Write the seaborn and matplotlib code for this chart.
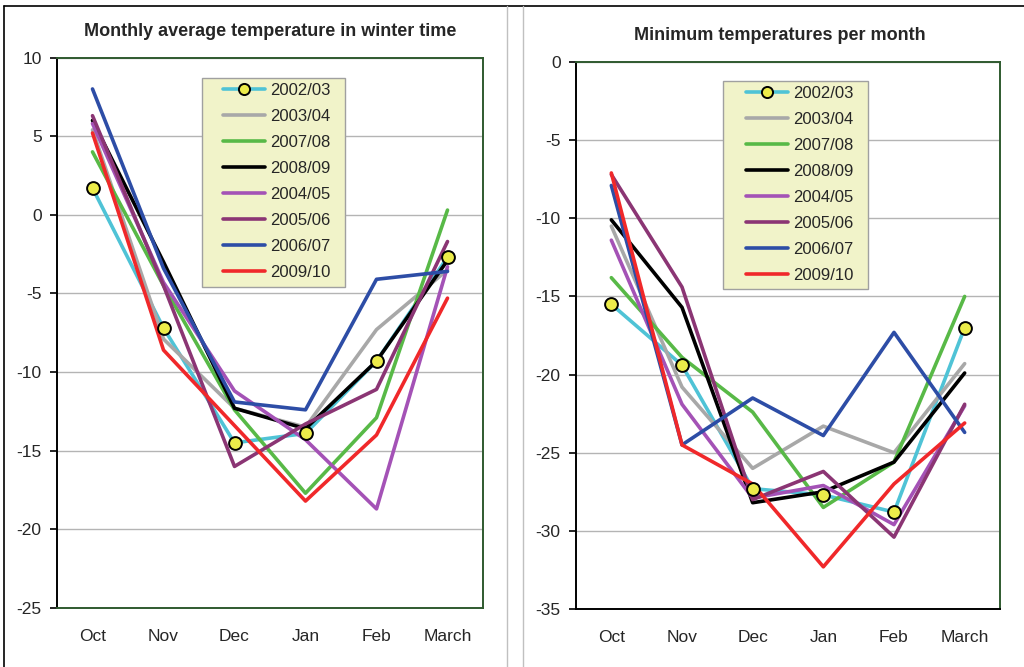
import numpy as np
import pandas as pd
import matplotlib
matplotlib.use('Agg')
import matplotlib.pyplot as plt
from matplotlib.lines import Line2D
from matplotlib.patches import Rectangle
import seaborn as sns

months = ['Oct', 'Nov', 'Dec', 'Jan', 'Feb', 'March']
seasons = ['2002/03', '2003/04', '2007/08', '2008/09', '2004/05', '2005/06', '2006/07', '2009/10']
colors = ['#4fc3d6', '#a8a8a8', '#58b947', '#000000', '#a452b6', '#8b3574', '#2d4da6', '#f0282a']

# monthly average temperature
avg_0203 = [1.7, -7.2, -14.5, -13.9, -9.3, -2.7]
avg_0304 = [5.4, -7.9, -12.3, -13.5, -7.3, -3.5]
avg_0708 = [4.0, -4.5, -12.4, -17.7, -12.9, 0.3]
avg_0809 = [6.0, -3.0, -12.3, -13.6, -9.3, -2.9]
avg_0405 = [5.8, -4.3, -11.2, -14.3, -18.7, -3.3]
avg_0506 = [6.3, -4.5, -16.0, -13.3, -11.1, -1.7]
avg_0607 = [8.0, -3.4, -11.9, -12.4, -4.1, -3.6]
avg_0910 = [5.2, -8.6, -13.4, -18.2, -14.0, -5.3]

# minimum temperatures
min_0203 = [-15.5, -19.4, -27.3, -27.7, -28.8, -17.0]
min_0304 = [-10.5, -20.8, -26.0, -23.3, -25.0, -19.3]
min_0708 = [-13.8, -18.9, -22.4, -28.5, -25.6, -15.0]
min_0809 = [-10.1, -15.7, -28.2, -27.5, -25.6, -19.9]
min_0405 = [-11.4, -21.9, -27.9, -27.1, -29.6, -22.0]
min_0506 = [-7.2, -14.4, -28.0, -26.2, -30.4, -21.9]
min_0607 = [-7.9, -24.5, -21.5, -23.9, -17.3, -23.7]
min_0910 = [-7.1, -24.5, -27.0, -32.3, -27.0, -23.1]

avg_vals = [avg_0203, avg_0304, avg_0708, avg_0809, avg_0405, avg_0506, avg_0607, avg_0910]
min_vals = [min_0203, min_0304, min_0708, min_0809, min_0405, min_0506, min_0607, min_0910]


def long_df(vals):
    rows = []
    for s, v in zip(seasons, vals):
        for m, t in zip(months, v):
            rows.append({'month': m, 'season': s, 'temp': t})
    return pd.DataFrame(rows)


sns.set_style('white')
plt.rcParams['font.family'] = ['Liberation Sans', 'DejaVu Sans']
plt.rcParams['axes.unicode_minus'] = False

fig = plt.figure(figsize=(10.24, 6.67), dpi=100)
ax1 = fig.add_axes([57/1024, 1-608/667, 426/1024, 550.5/667])
ax2 = fig.add_axes([576/1024, 1-609/667, 424/1024, 547/667])

dkgreen = '#2f5a2f'
pal = dict(zip(seasons, colors))


def draw(ax, vals, ylim, bottom_color, xtick_color):
    df = long_df(vals)
    df['x'] = df['month'].map({m: i for i, m in enumerate(months)})
    sns.lineplot(data=df, x='x', y='temp', hue='season', palette=pal,
                 hue_order=seasons, sort=False, lw=2.6, ax=ax, legend=False)
    first = df[df['season'] == seasons[0]]
    sns.scatterplot(data=first, x='x', y='temp', color='#ecec4a', edgecolor='black',
                    linewidth=1.4, s=85, zorder=5, ax=ax, legend=False)
    ax.set_xlim(-0.5, 5.5)
    ax.set_ylim(*ylim)
    ax.set_yticks(np.arange(ylim[0], ylim[1] + 1, 5))
    ax.set_xticks(range(len(months)))
    ax.set_xticklabels(months)
    ax.set_xticks(np.arange(-0.5, 6, 1), minor=True)
    ax.tick_params(axis='x', which='major', length=0, pad=15, labelsize=12.5)
    ax.tick_params(axis='x', which='minor', length=5, color=xtick_color, width=1)
    ax.tick_params(axis='y', length=5, width=1.2, color='black', pad=6, labelsize=12.5, left=True)
    ax.grid(axis='y', color='#b4b4b4', lw=1)
    ax.set_axisbelow(True)
    ax.set_xlabel('')
    ax.set_ylabel('')
    ax.spines['left'].set_color('black')
    ax.spines['left'].set_linewidth(1.4)
    for sp in ['top', 'right']:
        ax.spines[sp].set_color(dkgreen)
        ax.spines[sp].set_linewidth(1.4)
    ax.spines['bottom'].set_color(bottom_color)
    ax.spines['bottom'].set_linewidth(1.4)

    handles = []
    for i, (s, c) in enumerate(zip(seasons, colors)):
        if i == 0:
            handles.append(Line2D([], [], color=c, lw=2.6, marker='o', markersize=8,
                                  markerfacecolor='#ecec4a', markeredgecolor='black',
                                  markeredgewidth=1.4, label=s))
        else:
            handles.append(Line2D([], [], color=c, lw=2.6, label=s))
    return handles


def legend_box(ax, handles, box, anchor):
    ax.add_patch(Rectangle(box[:2], box[2], box[3], transform=ax.transAxes,
                           facecolor='#f1f3c9', edgecolor='#a0a0a0', lw=1, zorder=8))
    leg = ax.legend(handles=handles, loc='upper left', bbox_to_anchor=anchor, fontsize=12,
                    handlelength=2.5, handletextpad=0.3, labelspacing=0.66, borderpad=0,
                    borderaxespad=0, frameon=False, numpoints=1)
    leg.set_zorder(9)


h = draw(ax1, avg_vals, (-25, 10), dkgreen, '#b4b4b4')
legend_box(ax1, h, (0.34, 0.583, 0.336, 0.38), ((223-57)/426, (608-83)/550.5))

h = draw(ax2, min_vals, (-35, 0), 'black', 'black')
legend_box(ax2, h, (0.347, 0.585, 0.342, 0.380), ((746-576)/424, (609-86)/547))

fig.text(270/1024, 1-31/667, 'Monthly average temperature in winter time', ha='center', va='center',
         fontsize=13, fontweight='bold')
fig.text(780/1024, 1-36/667, 'Minimum temperatures per month', ha='center', va='center',
         fontsize=13, fontweight='bold')

# panel frames
fig.add_artist(Line2D([4/1024, 1], [1-6/667, 1-6/667], color='black', lw=1.2))
fig.add_artist(Line2D([4/1024, 4/1024], [0, 1-6/667], color='black', lw=1.2))
fig.add_artist(Line2D([507/1024, 507/1024], [0, 1-6/667], color='#c0c0c0', lw=1))
fig.add_artist(Line2D([523/1024, 523/1024], [0, 1-6/667], color='#c0c0c0', lw=1))

fig.savefig('out.png', dpi=100)
